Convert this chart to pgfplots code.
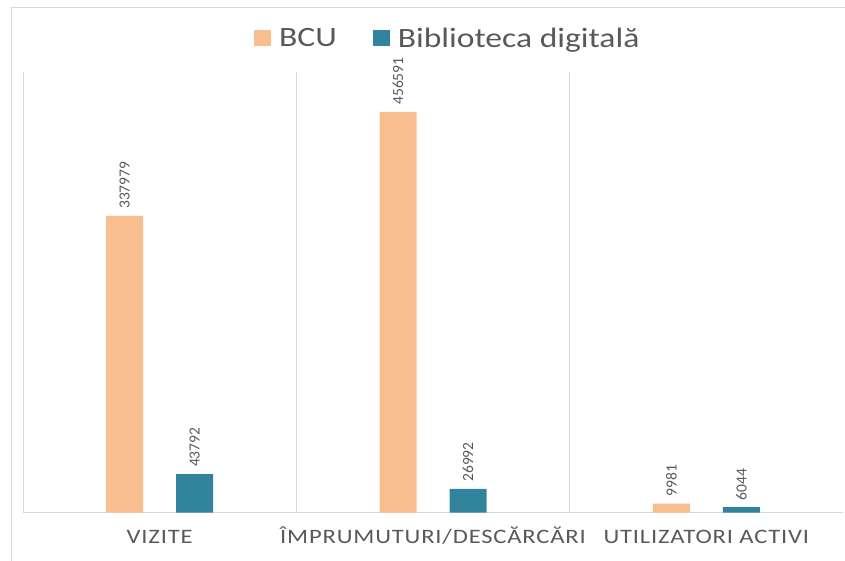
\documentclass[border=0pt]{standalone}
\usepackage{pgfplots}
\pgfplotsset{compat=1.18}
\usepackage{fontspec}
\setmainfont{Carlito}
\newfontfamily\wide[FakeStretch=1.2]{Carlito}
\newfontfamily\widesp[FakeStretch=1.2,LetterSpace=4]{Carlito}
\definecolor{bcu}{HTML}{F8BE8E}
\definecolor{bd}{HTML}{31849B}
\definecolor{txt}{HTML}{595959}
\definecolor{gridc}{HTML}{D9D9D9}
\newcommand\legendfont{\wide\fontsize{28}{34}\selectfont}
\newcommand\tickfont{\widesp\fontsize{20.5}{24}\selectfont}
\newcommand\lblfont{\fontsize{15.5}{18}\selectfont}

\begin{document}
\begin{tikzpicture}[x=1pt,y=1pt]
\path[use as bounding box] (0,0) rectangle (845,560);
\draw[gridc, line width=1pt] (11,-5) -- (11,552) -- (850,552);
\begin{axis}[
  at={(23pt,47.5pt)}, anchor=south west,
  scale only axis, width=820pt, height=440.5pt,
  xmin=-0.5, xmax=2.5, ymin=0, ymax=502000,
  clip=false,
  ybar, bar width=37pt,
  axis x line*=bottom, axis y line=none,
  x axis line style={gridc, line width=1pt, -},
  xtick={0,1,2},
  xticklabels={VIZITE, ÎMPRUMUTURI/DESCĂRCĂRI, UTILIZATORI ACTIVI},
  major tick length=0pt, minor tick length=0pt,
  minor xtick={-0.5,0.5,1.5}, xminorgrids,
  minor grid style={gridc, line width=1pt},
  xticklabel style={font=\tickfont, text=txt, anchor=base, yshift=-31pt},
  nodes near coords, point meta=explicit symbolic,
  every node near coord/.append style={rotate=90, anchor=west, font=\lblfont, text=txt, inner xsep=7pt},
  legend style={at={(0.518,1.077)}, anchor=center, draw=none, fill=none,
    legend columns=2, font=\legendfont, text=txt,
    /tikz/every odd column/.append style={column sep=6pt},
    /tikz/every even column/.append style={column sep=34pt}},
  legend image code/.code={\fill[#1] (0pt,-8pt) rectangle (17pt,8pt);},
]
\addplot[fill=bcu, draw=none, bar shift=-35pt] coordinates {
  (0,337979) [337979]
  (1,456591) [456591]
  (2,9981) [9981]
};
\addplot[fill=bd, draw=none, bar shift=35pt] coordinates {
  (0,43792) [43792]
  (1,26992) [26992]
  (2,6044) [6044]
};
\legend{BCU, Biblioteca digitală}
\end{axis}
\end{tikzpicture}
\end{document}
